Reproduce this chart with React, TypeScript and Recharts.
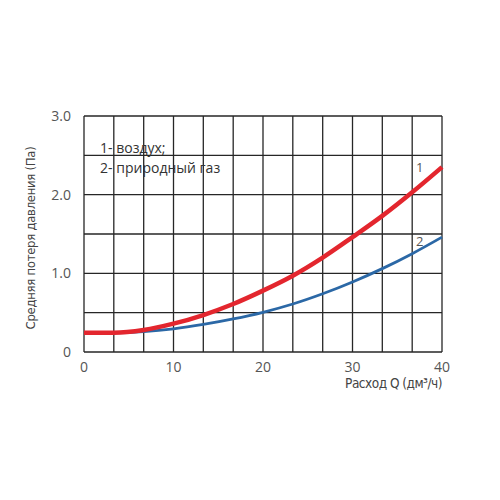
import {
  Label,
  Line,
  LineChart,
  ReferenceDot,
  ReferenceLine,
  XAxis,
  YAxis,
} from "recharts";

const flow = [0, 3.33, 6.67, 10, 13.33, 16.67, 20, 23.33, 26.67, 30, 33.33, 36.67, 40];
const airLoss = [0.245, 0.245, 0.28, 0.36, 0.47, 0.61, 0.78, 0.97, 1.2, 1.46, 1.73, 2.03, 2.35];
const gasLoss = [0.245, 0.245, 0.26, 0.295, 0.35, 0.42, 0.505, 0.61, 0.74, 0.89, 1.06, 1.25, 1.46];

const xTicks = [0, 10, 20, 30, 40];
const yTicks = [0, 1, 2, 3];
const gridX = [0, 3.33, 6.67, 10, 13.33, 16.67, 20, 23.33, 26.67, 30, 33.33, 36.67, 40];
const gridY = [0, 0.5, 1, 1.5, 2, 2.5, 3];

const chartData = flow.map((q, i) => ({ q, air: airLoss[i], gas: gasLoss[i] }));

const FONT = "'Open Sans', 'DejaVu Sans', sans-serif";
const NARROW = "'DejaVu Sans', sans-serif";
const GRID = "#262626";

export default function App() {
  return (
    <LineChart
      width={484}
      height={484}
      data={chartData}
      margin={{ top: 108, right: 50, left: 16, bottom: 104 }}
      style={{ fontFamily: FONT }}
    >
      {gridX.map((x) => (
        <ReferenceLine key={`gx${x}`} x={x} stroke={GRID} strokeWidth={1.3} />
      ))}
      {gridY.map((y) => (
        <ReferenceLine key={`gy${y}`} y={y} stroke={GRID} strokeWidth={1.3} />
      ))}
      <XAxis
        dataKey="q"
        type="number"
        domain={[0, 40]}
        ticks={xTicks}
        axisLine={false}
        tickLine={false}
        height={36}
        tick={{ fontSize: 14, fill: "#555" }}
        tickMargin={4}
      >
        <Label
          position="insideBottomRight"
          offset={0}
          content={(props: any) => {
            const { x, y, width, height } = props.viewBox;
            return (
              <text
                x={x + width}
                y={y + height}
                textAnchor="end"
                fontSize={13.5}
                fill="#444"
                fontFamily={NARROW}
                style={{ fontStretch: "condensed", letterSpacing: -0.5 }}
              >
                Расход Q (дм³/ч)
              </text>
            );
          }}
        />
      </XAxis>
      <YAxis
        type="number"
        domain={[0, 3]}
        ticks={yTicks}
        axisLine={false}
        tickLine={false}
        width={60}
        tick={{ fontSize: 14, fill: "#555" }}
        tickMargin={7}
        tickFormatter={(v: number) => (v === 0 ? "0" : v.toFixed(1))}
      >
        <Label
          value="Средняя потеря давления (Па)"
          angle={-90}
          position="insideLeft"
          offset={6}
          dy={4}
          style={{
            textAnchor: "middle",
            fontSize: 13,
            fill: "#444",
            fontFamily: NARROW,
            fontStretch: "condensed",
            letterSpacing: -0.3,
          }}
        />
      </YAxis>
      <Line
        type="monotone"
        dataKey="gas"
        stroke="#2b68a6"
        strokeWidth={2.8}
        dot={false}
        isAnimationActive={false}
      />
      <Line
        type="monotone"
        dataKey="air"
        stroke="#e3262e"
        strokeWidth={4.5}
        dot={false}
        isAnimationActive={false}
      />
      <ReferenceDot
        x={1.8}
        y={2.59}
        r={0}
        fill="none"
        stroke="none"
        label={{ value: "1- воздух;", position: "right", offset: 0, fontSize: 14, fill: "#333" }}
      />
      <ReferenceDot
        x={1.8}
        y={2.34}
        r={0}
        fill="none"
        stroke="none"
        label={{ value: "2- природный газ", position: "right", offset: 0, fontSize: 14, fill: "#333" }}
      />
      <ReferenceDot
        x={37.5}
        y={2.35}
        r={0}
        fill="none"
        stroke="none"
        label={{ value: "1", position: "center", fontSize: 13, fill: "#555" }}
      />
      <ReferenceDot
        x={37.5}
        y={1.4}
        r={0}
        fill="none"
        stroke="none"
        label={{ value: "2", position: "center", fontSize: 13, fill: "#555" }}
      />
    </LineChart>
  );
}
